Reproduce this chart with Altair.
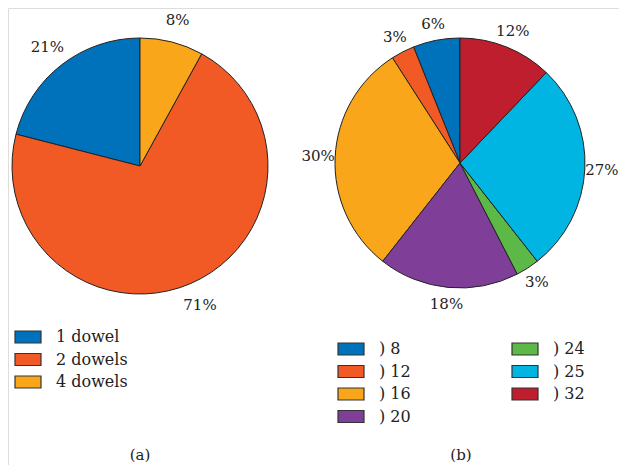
import altair as alt
import pandas as pd

# Pie (a)
a_labels = ["1 dowel", "2 dowels", "4 dowels"]
a_values = [21, 71, 8]
a_order = [3, 2, 1]          # clockwise order from 12 o'clock
a_colors = ["#0072BC", "#F15A24", "#FAA61A"]

# Pie (b)
b_labels = [") 8", ") 12", ") 16", ") 20", ") 24", ") 25", ") 32"]
b_values = [6, 3, 30, 18, 3, 27, 12]
b_order = [7, 6, 5, 4, 3, 2, 1]
b_colors = ["#0072BC", "#F15A24", "#FAA61A", "#7F3F98", "#5DB947", "#00B5E2", "#BE1E2D"]

captions = ["(a)", "(b)"]

FONT = "DejaVu Serif"

df_a = pd.DataFrame({"label": a_labels, "value": a_values, "ord": a_order})
df_a["txt"] = df_a["value"].astype(str) + "%"
df_b = pd.DataFrame({"label": b_labels, "value": b_values, "ord": b_order})
df_b["txt"] = df_b["value"].astype(str) + "%"

RECT = "M-1,-0.46H1V0.46H-1Z"

def legend(x, y, cols=1, colpad=0):
    kw = dict(
        orient="none", legendX=x, legendY=y, title=None,
        symbolType=RECT, symbolSize=676, symbolStrokeColor="#333333",
        symbolStrokeWidth=1.2, symbolOpacity=1,
        labelFont=FONT, labelFontSize=16, labelColor="#222222",
        labelOffset=14, clipHeight=22, rowPadding=0.5, padding=0,
    )
    if cols > 1:
        kw["columns"] = cols
        kw["columnPadding"] = colpad
    return alt.Legend(**kw)

CA = (132, 158, 128)
CB = (452, 155, 125)

arc_a = alt.Chart(df_a).mark_arc(radius=CA[2], stroke="#222222", strokeWidth=1).encode(
    theta=alt.Theta("value:Q", stack=True),
    order=alt.Order("ord:Q"),
    color=alt.Color("label:N", scale=alt.Scale(domain=a_labels, range=a_colors),
                    legend=legend(6, 318)),
    x=alt.value(CA[0]), y=alt.value(CA[1]),
)
txt_a = alt.Chart(df_a).mark_text(radius=CA[2] + 23, font=FONT, fontSize=15,
                                  color="#222222", align="center", baseline="middle").encode(
    theta=alt.Theta("value:Q", stack=True),
    order=alt.Order("ord:Q"),
    text="txt:N",
    x=alt.value(CA[0]), y=alt.value(CA[1]),
)

arc_b = alt.Chart(df_b).mark_arc(radius=CB[2], stroke="#222222", strokeWidth=1).encode(
    theta=alt.Theta("value:Q", stack=True),
    order=alt.Order("ord:Q"),
    color=alt.Color("label:N", scale=alt.Scale(domain=b_labels, range=b_colors),
                    legend=legend(329, 330, cols=2, colpad=100)),
    x=alt.value(CB[0]), y=alt.value(CB[1]),
)
txt_b = alt.Chart(df_b).mark_text(radius=CB[2] + 17, font=FONT, fontSize=15,
                                  color="#222222", align="center", baseline="middle").encode(
    theta=alt.Theta("value:Q", stack=True),
    order=alt.Order("ord:Q"),
    text="txt:N",
    x=alt.value(CB[0]), y=alt.value(CB[1]),
)

cap_df = pd.DataFrame({"cap": captions})
cap_a = alt.Chart(cap_df).transform_filter(alt.datum.cap == "(a)").mark_text(
    font=FONT, fontSize=15, color="#222222", baseline="middle").encode(
    text="cap:N", x=alt.value(132), y=alt.value(447))
cap_b = alt.Chart(cap_df).transform_filter(alt.datum.cap == "(b)").mark_text(
    font=FONT, fontSize=15, color="#222222", baseline="middle").encode(
    text="cap:N", x=alt.value(453), y=alt.value(447))

chart = alt.layer(arc_a, txt_a, arc_b, txt_b, cap_a, cap_b).resolve_scale(
    color="independent", theta="independent"
).properties(
    width=611, height=457, padding=0, autosize=alt.AutoSizeParams(type="none")
).configure_view(stroke=None).configure(background="white")

chart.save("out.html", embed_options={"renderer": "svg", "actions": False})
